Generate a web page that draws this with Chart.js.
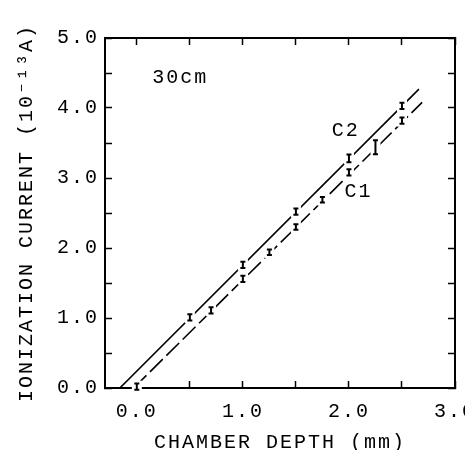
<!DOCTYPE html>
<html>
<head>
<meta charset="utf-8">
<script src="https://cdn.jsdelivr.net/npm/chart.js@4.4.1/dist/chart.umd.min.js"></script>
<style>
  body { margin: 0; background: #fff; overflow: hidden; }
  #wrap { width: 465px; height: 450px; }
</style>
</head>
<body>
<div id="wrap"><canvas id="chart"></canvas></div>
<script>
// chamber depth (mm) and ionization current (1e-13 A)
const c2Depth = [0.5, 1.0, 1.5, 2.0, 2.5]
const c2Current = [1.01, 1.76, 2.52, 3.28, 4.03]
const c2Err = [0.045, 0.045, 0.045, 0.055, 0.045]

const c1Depth = [0.0, 0.7, 1.0, 1.25, 1.5, 1.75, 2.0, 2.25, 2.5]
const c1Current = [0.02, 1.11, 1.56, 1.94, 2.30, 2.69, 3.08, 3.44, 3.82]
const c1Err = [0.045, 0.045, 0.045, 0.04, 0.04, 0.04, 0.045, 0.1, 0.045]

// fitted lines (end points)
const c2Fit = [{x: -0.16, y: 0}, {x: 2.66, y: 4.27}]
const c1Fit = [{x: -0.03, y: 0}, {x: 2.69, y: 4.08}]

const xTicks = [0, 0.5, 1, 1.5, 2, 2.5, 3]
const yTicks = [0, 0.5, 1, 1.5, 2, 2.5, 3, 3.5, 4, 4.5, 5]

const notes = [
    {text: '30cm', x: 0.41, y: 4.43},
    {text: 'C2', x: 1.97, y: 3.67},
    {text: 'C1', x: 2.09, y: 2.80}
]

const FONT = 'Liberation Mono, Courier New, monospace'
const SPACING = '2px'
const SIZE = 20

const toPoints = (xs, ys) => xs.map((v, i) => ({x: v, y: ys[i]}))

const integerLabel = (v) => Number.isInteger(v) ? v.toFixed(1) : ''

const spacingPlugin = {
    id: 'spacing',
    beforeUpdate: (chart) => { chart.ctx.letterSpacing = SPACING },
    beforeDraw: (chart) => { chart.ctx.letterSpacing = SPACING }
}

const marksPlugin = {
    id: 'marks',
    afterDatasetsDraw: (chart) => {
        const ctx = chart.ctx
        const xs = chart.scales.x
        const ys = chart.scales.y
        const series = [[c2Depth, c2Current, c2Err], [c1Depth, c1Current, c1Err]]
        ctx.save()
        for (const [dx, cy, er] of series) {
            dx.forEach((d, i) => {
                const px = xs.getPixelForValue(d)
                const py = ys.getPixelForValue(cy[i])
                const top = ys.getPixelForValue(cy[i] + er[i])
                const bot = ys.getPixelForValue(cy[i] - er[i])
                ctx.fillStyle = '#fff'
                ctx.fillRect(px - 5, Math.min(top, py - 6), 10, Math.max(bot - top, 12))
                ctx.strokeStyle = '#000'
                ctx.lineWidth = 2
                ctx.beginPath()
                ctx.moveTo(px, top); ctx.lineTo(px, bot)
                ctx.moveTo(px - 2.5, top); ctx.lineTo(px + 2.5, top)
                ctx.moveTo(px - 2.5, bot); ctx.lineTo(px + 2.5, bot)
                ctx.stroke()
            })
        }
        ctx.fillStyle = '#000'
        ctx.font = SIZE + 'px ' + FONT
        ctx.letterSpacing = SPACING
        ctx.textAlign = 'center'
        ctx.textBaseline = 'middle'
        for (const n of notes) {
            ctx.fillText(n.text, xs.getPixelForValue(n.x), ys.getPixelForValue(n.y))
        }
        ctx.restore()
    }
}

const axis = (pos, min, max, ticks, size, pad, title, titlePad) => ({
    type: 'linear',
    position: pos,
    min: min,
    max: max,
    afterBuildTicks: (s) => { s.ticks = ticks.map(v => ({value: v})) },
    afterFit: (s) => {
        s.paddingLeft = 0; s.paddingRight = 0; s.paddingTop = 0; s.paddingBottom = 0
        if (pos == 'top' || pos == 'bottom') s.height = size
        else s.width = size
    },
    border: {display: true, color: '#000', width: 2},
    grid: {display: true, drawOnChartArea: false, drawTicks: true, tickLength: -7, tickColor: '#000', tickWidth: 1.5},
    ticks: {
        display: title != null,
        autoSkip: false,
        maxRotation: 0,
        padding: pad,
        color: '#000',
        font: {family: FONT, size: SIZE},
        callback: integerLabel
    },
    title: title ? {display: true, text: title, color: '#000', font: {family: FONT, size: SIZE}, padding: titlePad} : {display: false}
})

const ctx = document.getElementById('chart').getContext('2d')
const myChart = new Chart(ctx, {
    type: 'scatter',
    data: {
        datasets: [
            {label: 'C2 fit', data: c2Fit, showLine: true, borderColor: '#000', borderWidth: 1.6, pointRadius: 0},
            {label: 'C1 fit', data: c1Fit, showLine: true, borderColor: '#000', borderWidth: 1.6, borderDash: [18, 5], pointRadius: 0},
            {label: 'C2', data: toPoints(c2Depth, c2Current), pointRadius: 0},
            {label: 'C1', data: toPoints(c1Depth, c1Current), pointRadius: 0}
        ]
    },
    options: {
        responsive: true,
        maintainAspectRatio: false,
        animation: false,
        layout: {padding: {left: 0, right: 10, top: 38, bottom: 0}},
        plugins: {legend: {display: false}, tooltip: {enabled: false}},
        scales: {
            x: axis('bottom', -0.3, 3.0, xTicks, 62, 19, 'CHAMBER DEPTH (mm)', {top: 0, bottom: -5}),
            y: axis('left', 0, 5, yTicks, 105, 13, 'IONIZATION CURRENT (10⁻¹³A)', {top: 15, bottom: 0}),
            x2: axis('top', -0.3, 3.0, xTicks, 0, 0, null, null),
            y2: axis('right', 0, 5, yTicks, 0, 0, null, null)
        }
    },
    plugins: [spacingPlugin, marksPlugin]
})
</script>
</body>
</html>
